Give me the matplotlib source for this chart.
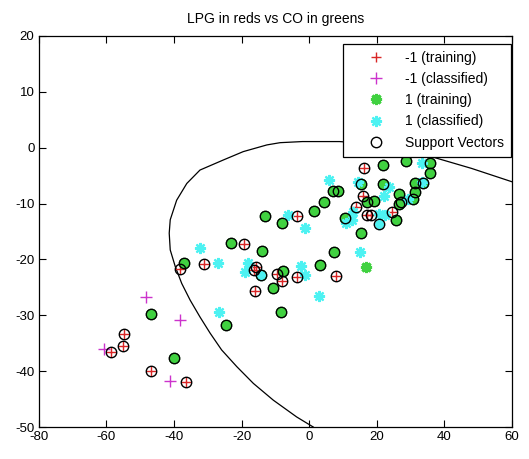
import numpy as np
import matplotlib
matplotlib.use("Agg")
import matplotlib.pyplot as plt

plt.rcParams['font.family'] = ['Liberation Sans', 'DejaVu Sans']
plt.rcParams['axes.unicode_minus'] = False

# -1 (training), all of them support vectors
neg_train_x = [-54.8, -55.1, -58.7, -46.8, -36.5, -38.3, -31.0, -19.2, -3.7, -15.7, -16.3,
               -9.6, -8.1, -3.7, -16.0, 7.9, 13.8, 16.2, 16.0, 27.2, 17.0, 18.2, 24.4, 20.8]
neg_train_y = [-33.3, -35.5, -36.6, -39.9, -41.9, -21.8, -20.8, -17.3, -12.3, -21.4, -21.9,
               -22.6, -23.8, -23.1, -25.6, -22.9, -10.6, -3.7, -8.6, -9.7, -12.1, -12.1, -11.5, -13.7]

# -1 (classified)
neg_cls_x = [-48.3, -38.2, -60.7, -41.2]
neg_cls_y = [-26.8, -30.8, -36.1, -41.7]

# 1 (training)
pos_train_x = [-46.8, -40.1, -37.0, -13.0, -8.1, 1.5, 4.5, -23.2, -14.0, -14.2, -7.8, 3.2,
               -10.8, -8.4, -24.7, 7.2, 7.0, 8.6, 10.6, 21.7, 28.6, 35.6, 35.8, 15.3, 21.8,
               33.8, 31.3, 31.3, 30.8, 26.7, 26.7, 17.0, 19.3, 25.7, 15.3, 16.7]
pos_train_y = [-29.8, -37.7, -20.7, -12.3, -13.4, -11.3, -9.7, -17.1, -18.5, -22.8, -22.0, -21.0,
               -25.2, -29.4, -31.7, -18.6, -7.7, -7.7, -12.5, -3.1, -2.4, -2.7, -4.6, -6.5, -6.5,
               -6.4, -6.3, -7.9, -9.2, -8.2, -10.0, -9.8, -9.5, -12.9, -15.3, -21.4]
pos_train_sv = [True] * 35 + [False]

# 1 (classified)
pos_cls_x = [-32.3, -27.0, -26.7, -6.3, -1.3, -18.0, -19.0, -14.2, -2.5, -1.2, 3.0, 6.0,
             12.6, 15.1, 14.3, 23.6, 33.3, 33.3, 29.3, 22.0, 13.1, 20.8, 22.5, 20.8, 10.9]
pos_cls_y = [-17.9, -20.6, -29.5, -12.0, -14.4, -20.7, -22.2, -22.8, -21.2, -22.8, -26.5, -5.8,
             -12.9, -18.7, -6.1, -7.0, -2.8, -6.1, -9.2, -8.6, -11.5, -11.9, -12.1, -13.7, -13.5]

# decision boundary
boundary_x = [1.2, -3.7, -10.6, -16.5, -21.4, -25.9, -29.3, -32.3, -35.2, -37.7, -39.6,
              -41.1, -41.4, -41.1, -39.2, -36.2, -32.3, -25.4, -19.5, -12.5, -8.6, -2.0,
              9.0, 20.0, 28.0, 36.7, 48.0, 60.0]
boundary_y = [-50.0, -48.2, -45.2, -42.2, -39.2, -36.2, -33.2, -30.3, -27.3, -24.3, -21.3,
              -18.3, -15.3, -12.9, -9.4, -6.4, -4.0, -2.2, -0.7, 0.5, 0.9, 1.1,
              1.1, 0.6, -0.3, -1.7, -3.7, -6.1]

fig = plt.figure(figsize=(5.29, 4.59), dpi=100)
ax = fig.add_axes([0.0732, 0.0697, 0.8947, 0.8519])

ax.plot(boundary_x, boundary_y, color='black', linewidth=0.9, zorder=1)

star = (8, 2, 0)
h1, = ax.plot(neg_train_x, neg_train_y, '+', color=(0.85, 0.15, 0.15), markersize=7, mew=1.0,
              linestyle='none', label='-1 (training)', zorder=2)
h3, = ax.plot(pos_train_x, pos_train_y, marker=star, color=(0.25, 0.82, 0.25), markersize=8,
              mew=2.2, linestyle='none', label='1 (training)', zorder=2)
h2, = ax.plot(neg_cls_x, neg_cls_y, '+', color=(0.8, 0.2, 0.8), markersize=8, mew=1.0,
              linestyle='none', label='-1 (classified)', zorder=3)
h4, = ax.plot(pos_cls_x, pos_cls_y, marker=star, color=(0.3, 0.95, 0.95), markersize=8,
              mew=1.6, linestyle='none', label='1 (classified)', zorder=3)

sv_x = neg_train_x + [x for x, s in zip(pos_train_x, pos_train_sv) if s]
sv_y = neg_train_y + [y for y, s in zip(pos_train_y, pos_train_sv) if s]
h5, = ax.plot(sv_x, sv_y, 'o', markerfacecolor='none', markeredgecolor='black', markersize=7.5,
              mew=1.0, linestyle='none', label='Support Vectors', zorder=4)

ax.set_xlim(-80, 60)
ax.set_ylim(-50, 20)
ax.set_xticks(np.arange(-80, 61, 20))
ax.set_yticks(np.arange(-50, 21, 10))
ax.tick_params(direction='in', top=True, right=True, length=5, labelsize=9.5, pad=3)
for s in ax.spines.values():
    s.set_linewidth(0.9)
ax.set_title('LPG in reds vs CO in greens', fontsize=10, pad=9)

leg = ax.legend(handles=[h1, h2, h3, h4, h5], loc='upper right', bbox_to_anchor=(0.997, 0.98),
                fontsize=10, fancybox=False, framealpha=1, edgecolor='black',
                borderaxespad=0, handlelength=3.8, handletextpad=0.15, labelspacing=0.52,
                borderpad=0.5)
leg.get_frame().set_linewidth(0.9)
leg.set_zorder(10)

fig.savefig('out.png', dpi=100)
